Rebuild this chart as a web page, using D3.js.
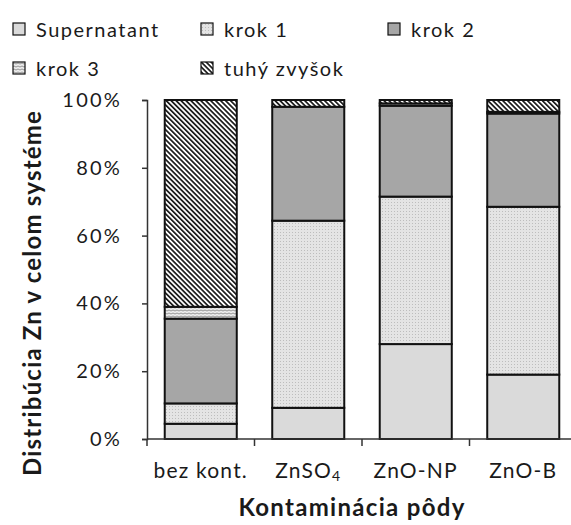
<!DOCTYPE html>
<html>
<head>
<meta charset="utf-8">
<script src="https://cdn.jsdelivr.net/npm/d3@7"></script>
<style>
  html, body { margin: 0; padding: 0; background: #fff; }
  svg { display: block; }
  text { font-family: "Lato", "Open Sans", sans-serif; fill: #1a1a1a; }
</style>
</head>
<body>
<svg id="chart" width="571" height="525"></svg>
<script>
// Soil contamination variants
const categories = ["bez kont.", "ZnSO4", "ZnO-NP", "ZnO-B"];
// Fractions (stack order bottom to top)
const seriesNames = ["Supernatant", "krok 1", "krok 2", "krok 3", "tuhý zvyšok"];
// Share of Zn in each fraction, % (per category, same order as categories)
const supernatant = [4.5, 9.2, 28.0, 19.0];
const krok1       = [6.0, 55.2, 43.5, 49.5];
const krok2       = [25.0, 33.6, 26.8, 27.5];
const krok3       = [3.5, 0.0, 0.7, 0.5];
const tuhyZvysok  = [61.0, 2.0, 1.0, 3.5];
const yTicks = [0, 20, 40, 60, 80, 100];

const seriesValues = [supernatant, krok1, krok2, krok3, tuhyZvysok];
const rows = categories.map((c, i) => {
  const r = { cat: c };
  seriesNames.forEach((s, j) => { r[s] = seriesValues[j][i]; });
  return r;
});

const svg = d3.select("#chart");
const defs = svg.append("defs");

// Fill patterns for the fractions
const pDots = defs.append("pattern").attr("id", "p-krok1")
  .attr("patternUnits", "userSpaceOnUse").attr("width", 3).attr("height", 3);
pDots.append("rect").attr("width", 3).attr("height", 3).attr("fill", "#e4e4e4");
pDots.append("rect").attr("x", 1).attr("y", 1).attr("width", 1).attr("height", 1).attr("fill", "#bdbdbd");

const pWave = defs.append("pattern").attr("id", "p-krok3")
  .attr("patternUnits", "userSpaceOnUse").attr("width", 4).attr("height", 3);
pWave.append("rect").attr("width", 4).attr("height", 3).attr("fill", "#ececec");
pWave.append("path").attr("d", "M0,1.5 L1,1 L2,1.5 L3,2 L4,1.5")
  .attr("stroke", "#8a8a8a").attr("stroke-width", 0.9).attr("fill", "none");

const pHatch = defs.append("pattern").attr("id", "p-tuhy")
  .attr("patternUnits", "userSpaceOnUse").attr("width", 3.5).attr("height", 3.5)
  .attr("patternTransform", "rotate(-45)");
pHatch.append("rect").attr("width", 3.5).attr("height", 3.5).attr("fill", "#ffffff");
pHatch.append("rect").attr("width", 1.7).attr("height", 3.5).attr("fill", "#1a1a1a");

const fills = {
  "Supernatant": "#dadada",
  "krok 1": "url(#p-krok1)",
  "krok 2": "#a6a6a6",
  "krok 3": "url(#p-krok3)",
  "tuhý zvyšok": "url(#p-tuhy)"
};

const x = d3.scaleBand().domain(categories).range([147, 577]).paddingInner(0.33).paddingOuter(0.165);
const y = d3.scaleLinear().domain([0, 100]).range([439, 100]);

const stack = d3.stack().keys(seriesNames);
const layers = stack(rows);

// Bars
const g = svg.append("g");
layers.forEach(layer => {
  g.selectAll(null).data(layer).enter().append("rect")
    .filter(d => d[1] - d[0] > 0)
    .attr("x", d => x(d.data.cat))
    .attr("width", x.bandwidth())
    .attr("y", d => y(d[1]))
    .attr("height", d => y(d[0]) - y(d[1]))
    .attr("fill", fills[layer.key])
    .attr("stroke", "#111")
    .attr("stroke-width", 2);
});

// Y axis
const yAxis = d3.axisLeft(y).tickValues(yTicks).tickFormat(d => d + "%").tickSize(5).tickPadding(20);
const yg = svg.append("g").attr("transform", "translate(147,0)").call(yAxis);
yg.select(".domain").attr("stroke", "#333").attr("stroke-width", 1.5);
yg.selectAll(".tick line").attr("stroke", "#333").attr("stroke-width", 1.5);
yg.selectAll(".tick text").style("font-size", "20px").style("letter-spacing", "2.2px").attr("fill", "#1a1a1a");

// X axis
const xAxisG = svg.append("g").attr("transform", "translate(0,439)");
xAxisG.append("line").attr("x1", 147).attr("x2", 577).attr("y1", 0).attr("y2", 0)
  .attr("stroke", "#333").attr("stroke-width", 1.5);
const boundaries = categories.map(c => x(c) - x.step() * x.paddingInner() / 2);
boundaries.push(577);
xAxisG.selectAll(".xtick").data(boundaries).enter().append("line")
  .attr("x1", d => d).attr("x2", d => d).attr("y1", 0).attr("y2", 7)
  .attr("stroke", "#333").attr("stroke-width", 1.5);

const xl = xAxisG.selectAll(".xlab").data(categories).enter().append("text")
  .attr("x", d => x(d) + x.bandwidth() / 2)
  .attr("y", 39)
  .attr("text-anchor", "middle")
  .style("font-size", "21px")
  .style("letter-spacing", "1.2px");
xl.each(function (d) {
  const t = d3.select(this);
  if (d === "ZnSO4") {
    t.append("tspan").text("ZnSO");
    t.append("tspan").text("4").style("font-size", "14px").attr("dy", 3);
  } else {
    t.text(d);
  }
});

// Axis titles
svg.append("text")
  .attr("x", 352).attr("y", 516)
  .attr("text-anchor", "middle")
  .style("font-size", "24px").style("font-weight", "bold")
  .style("letter-spacing", "1.3px")
  .text("Kontaminácia pôdy");

svg.append("text")
  .attr("transform", "translate(41,293) rotate(-90)")
  .attr("text-anchor", "middle")
  .style("font-size", "24px").style("font-weight", "bold")
  .style("letter-spacing", "1.2px")
  .text("Distribúcia Zn v celom systéme");

// Legend
const legendPos = [
  { x: 13, y: 29 }, { x: 201, y: 29 }, { x: 388, y: 29 },
  { x: 13, y: 68 }, { x: 201, y: 68 }
];
const lg = svg.append("g").selectAll("g").data(seriesNames).enter().append("g")
  .attr("transform", (d, i) => `translate(${legendPos[i].x},${legendPos[i].y})`);
lg.append("rect").attr("x", 0).attr("y", -6).attr("width", 12).attr("height", 12)
  .attr("fill", d => fills[d]).attr("stroke", "#111").attr("stroke-width", 1.2);
lg.append("text").attr("x", 23).attr("y", 7.5)
  .style("font-size", "20px").style("letter-spacing", "1.5px").text(d => d);
</script>
</body>
</html>
